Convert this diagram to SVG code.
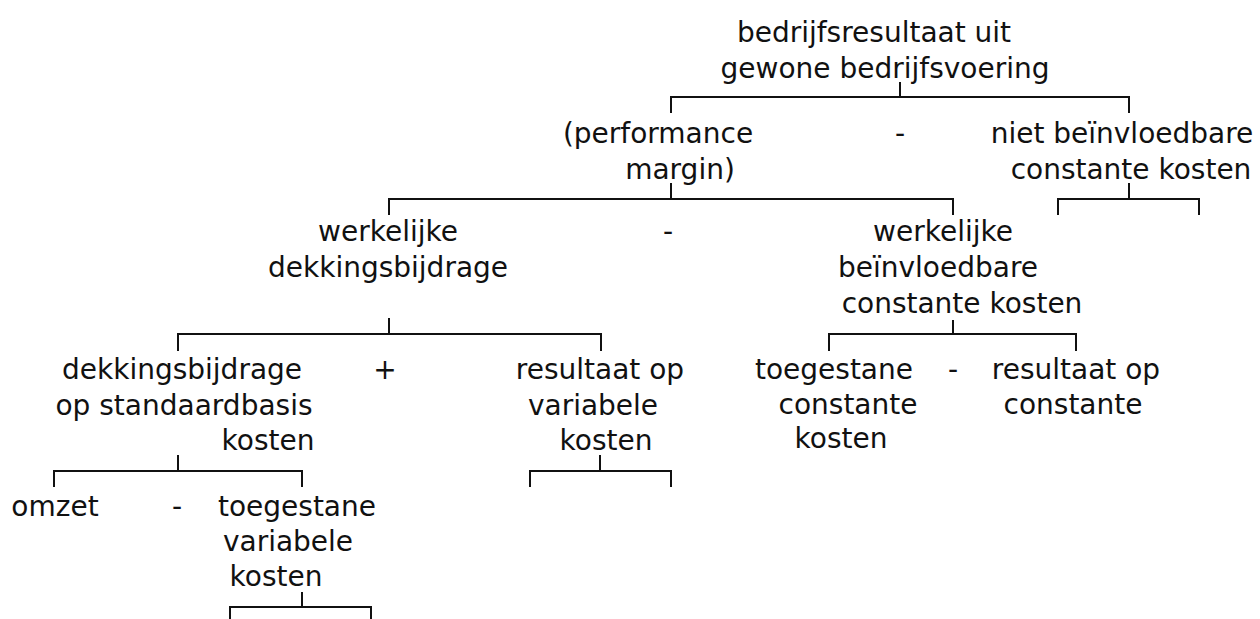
<svg xmlns="http://www.w3.org/2000/svg" width="1260" height="619" viewBox="0 0 1260 619">
<style>
text{font-family:"DejaVu Sans","Noto Sans",sans-serif;font-size:28px;fill:#111;text-anchor:middle}
.c path{fill:none;stroke:#111;stroke-width:2}
</style>
<rect width="1260" height="619" fill="#fff"/>
<g class="c" id="connectors">
<path d="M900 82V97M671 113V97H1129V113"/>
<path d="M671 183V199M389 215V199H953V215"/>
<path d="M1129 183V199M1058 215V199H1199V215"/>
<path d="M389 318V334M178 351V334H601V351"/>
<path d="M953 320V334M829 351V334H1076V351"/>
<path d="M178 455V471M54 487V471H302V487"/>
<path d="M600 455V471M530 487V471H671V487"/>
<path d="M302 592V607M230 621V607H371V621"/>
</g>
<g id="n-bedrijfsresultaat">
<text x="874" y="42">bedrijfsresultaat uit</text>
<text x="885" y="78">gewone bedrijfsvoering</text>
</g>
<g id="n-performance">
<text x="658" y="143">(performance</text>
<text x="680" y="179">margin)</text>
</g>
<text id="op1" x="900" y="143">-</text>
<g id="n-niet-beinvloedbaar">
<text x="1122" y="143">niet beïnvloedbare</text>
<text x="1131" y="179">constante kosten</text>
</g>
<g id="n-werk-db">
<text x="388" y="241">werkelijke</text>
<text x="388" y="277">dekkingsbijdrage</text>
</g>
<text id="op2" x="668" y="241">-</text>
<g id="n-werk-bck">
<text x="943" y="241">werkelijke</text>
<text x="938" y="277">beïnvloedbare</text>
<text x="962" y="313">constante kosten</text>
</g>
<g id="n-db-standaard">
<text x="182" y="379">dekkingsbijdrage</text>
<text x="184" y="415">op standaardbasis</text>
<text x="268" y="450">kosten</text>
</g>
<text id="op3" x="385" y="379">+</text>
<g id="n-res-var">
<text x="600" y="379">resultaat op</text>
<text x="593" y="415">variabele</text>
<text x="606" y="450">kosten</text>
</g>
<g id="n-toeg-const">
<text x="834" y="379">toegestane</text>
<text x="848" y="414">constante</text>
<text x="841" y="448">kosten</text>
</g>
<text id="op4" x="953" y="379">-</text>
<g id="n-res-const">
<text x="1076" y="379">resultaat op</text>
<text x="1073" y="414">constante</text>
</g>
<g id="n-omzet">
<text x="55" y="516">omzet</text>
</g>
<text id="op5" x="177" y="516">-</text>
<g id="n-toeg-var">
<text x="297" y="516">toegestane</text>
<text x="288" y="551">variabele</text>
<text x="276" y="586">kosten</text>
</g>
</svg>
